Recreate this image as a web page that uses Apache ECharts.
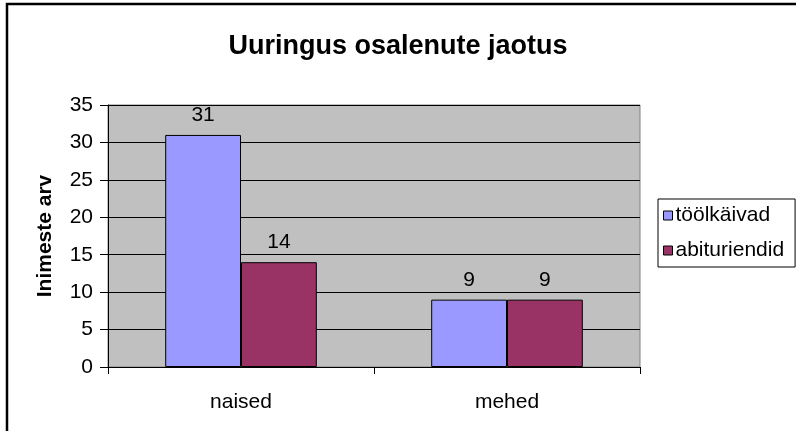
<!DOCTYPE html>
<html>
<head>
<meta charset="utf-8">
<script src="https://cdn.jsdelivr.net/npm/echarts@6/dist/echarts.min.js"></script>
<style>
  html, body { margin: 0; padding: 0; background: #fff; }
  #chart { width: 796px; height: 431px; }
</style>
</head>
<body>
<div id="chart"></div>
<script>
const categories = ['naised', 'mehed'];
const seriesNames = ['töölkäivad', 'abituriendid'];
const toolkaivad = [31, 9];
const abituriendid = [14, 9];
const yTicks = { min: 0, max: 35, interval: 5 };

const font = 'Arial, "Liberation Sans", sans-serif';
const chart = echarts.init(document.getElementById('chart'));

const barLabel = {
  show: true,
  position: 'top',
  distance: 9,
  color: '#000',
  fontSize: 21,
  fontFamily: font
};

chart.setOption({
  animation: false,
  textStyle: { fontFamily: font },
  title: {
    text: 'Uuringus osalenute jaotus',
    left: 'center',
    top: 28,
    textStyle: { fontSize: 27, fontWeight: 'bold', color: '#000', fontFamily: font }
  },
  graphic: [{
    type: 'rect',
    shape: { x: 7, y: 4, width: 800, height: 440 },
    style: { fill: 'none', stroke: '#000', lineWidth: 2.5 },
    silent: true
  }],
  legend: {
    orient: 'vertical',
    left: 658,
    top: 199,
    padding: [6, 11, 6, 5],
    itemGap: 14,
    itemWidth: 9,
    itemHeight: 9,
    icon: 'rect',
    borderColor: '#000',
    borderWidth: 1,
    backgroundColor: '#fff',
    itemStyle: { borderColor: '#000', borderWidth: 1 },
    textStyle: { fontSize: 21, color: '#000', fontFamily: font, padding: [0, 0, 0, -2] },
    data: seriesNames
  },
  grid: {
    left: 108,
    top: 105,
    width: 532,
    height: 262,
    show: true,
    backgroundColor: '#C0C0C0',
    borderColor: '#808080',
    borderWidth: 1
  },
  xAxis: {
    type: 'category',
    data: categories,
    axisLine: { lineStyle: { color: '#000', width: 1 } },
    axisTick: { show: true, length: 7, lineStyle: { color: '#000' } },
    axisLabel: { fontSize: 21, color: '#000', margin: 25, fontFamily: font }
  },
  yAxis: {
    type: 'value',
    min: yTicks.min,
    max: yTicks.max,
    interval: yTicks.interval,
    name: 'Inimeste arv',
    nameLocation: 'middle',
    nameRotate: 90,
    nameGap: 52,
    nameTextStyle: { fontSize: 21, fontWeight: 'bold', color: '#000', fontFamily: font },
    axisLine: { show: true, lineStyle: { color: '#000', width: 1 } },
    axisTick: { show: true, length: 8, lineStyle: { color: '#000' } },
    axisLabel: { fontSize: 21, color: '#000', margin: 15, fontFamily: font },
    splitLine: { show: true, lineStyle: { color: '#000', width: 1 } }
  },
  series: [
    {
      name: seriesNames[0],
      type: 'bar',
      data: toolkaivad,
      barGap: '0%',
      barCategoryGap: '43%',
      itemStyle: { color: '#9999FF', borderColor: '#000', borderWidth: 1 },
      label: barLabel
    },
    {
      name: seriesNames[1],
      type: 'bar',
      data: abituriendid,
      itemStyle: { color: '#993366', borderColor: '#000', borderWidth: 1 },
      label: barLabel
    }
  ]
});

window.addEventListener('resize', function () {
  chart.resize();
});
</script>
</body>
</html>
